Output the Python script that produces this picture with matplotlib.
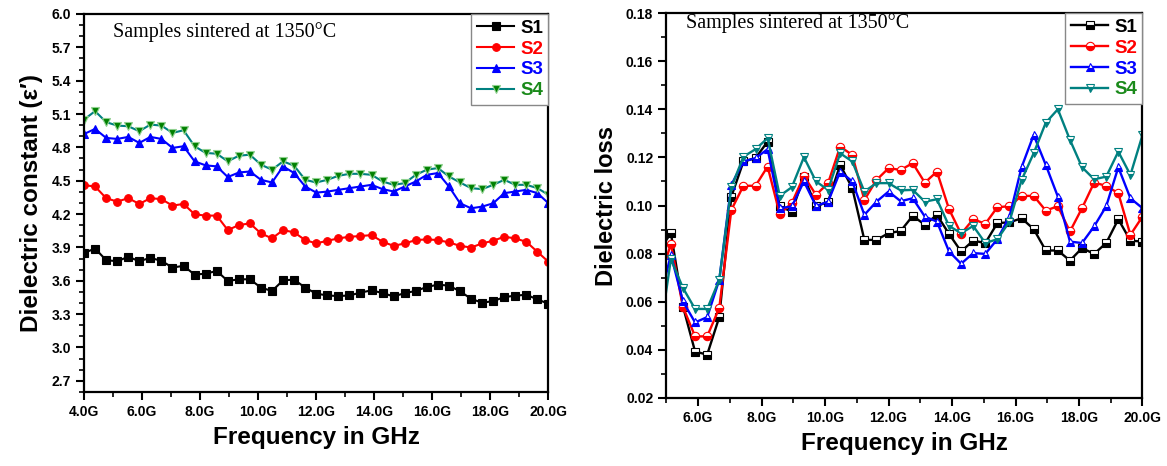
import numpy as np
import matplotlib.pyplot as plt
from matplotlib.ticker import MultipleLocator, FuncFormatter

# frequency grid (GHz), 43 points from 4 to 20
freq = np.linspace(4, 20, 43)

# dielectric constant
eps_s1 = [3.85, 3.89, 3.785, 3.776, 3.815, 3.776, 3.806, 3.779, 3.719, 3.734, 3.655,
          3.664, 3.688, 3.598, 3.613, 3.613, 3.538, 3.508, 3.604, 3.610, 3.538, 3.484,
          3.468, 3.462, 3.468, 3.493, 3.514, 3.489, 3.459, 3.489, 3.508, 3.544, 3.565,
          3.556, 3.505, 3.438, 3.402, 3.417, 3.453, 3.466, 3.474, 3.432, 3.393]
eps_s2 = [4.46, 4.448, 4.343, 4.312, 4.343, 4.291, 4.343, 4.334, 4.276, 4.291, 4.198,
          4.186, 4.186, 4.056, 4.101, 4.116, 4.026, 3.981, 4.056, 4.035, 3.966, 3.936,
          3.960, 3.981, 3.996, 4.002, 4.011, 3.950, 3.914, 3.936, 3.966, 3.972, 3.966,
          3.945, 3.914, 3.899, 3.936, 3.960, 3.996, 3.981, 3.950, 3.860, 3.770]
eps_s3 = [4.92, 4.966, 4.885, 4.876, 4.894, 4.840, 4.894, 4.876, 4.795, 4.810, 4.674,
          4.638, 4.629, 4.533, 4.574, 4.583, 4.508, 4.484, 4.629, 4.569, 4.448, 4.393,
          4.402, 4.418, 4.433, 4.448, 4.463, 4.424, 4.403, 4.448, 4.493, 4.553, 4.569,
          4.448, 4.297, 4.252, 4.267, 4.297, 4.388, 4.403, 4.418, 4.388, 4.297]
eps_s4 = [5.05, 5.126, 5.027, 4.996, 4.990, 4.945, 5.005, 4.996, 4.930, 4.954, 4.810,
          4.750, 4.743, 4.674, 4.725, 4.734, 4.644, 4.599, 4.674, 4.635, 4.508, 4.484,
          4.508, 4.544, 4.562, 4.562, 4.553, 4.493, 4.463, 4.478, 4.553, 4.599, 4.614,
          4.538, 4.484, 4.433, 4.424, 4.463, 4.508, 4.463, 4.463, 4.433, 4.373]

# dielectric loss (starts at the 3rd frequency point)
loss_freq = freq[2:]
loss_s1 = [0.081, 0.0885, 0.058, 0.0393, 0.038, 0.0536, 0.1037, 0.1183, 0.1197, 0.1266,
           0.0996, 0.0975, 0.112, 0.0996, 0.1016, 0.1169, 0.1072, 0.0857, 0.0857, 0.0885,
           0.0894, 0.0957, 0.092, 0.0961, 0.0882, 0.0809, 0.0854, 0.0844, 0.0927, 0.093,
           0.0947, 0.0902, 0.0813, 0.0813, 0.0771, 0.0823, 0.0799, 0.0844, 0.0943, 0.0854,
           0.085]
loss_s2 = [0.0676, 0.0841, 0.0578, 0.0456, 0.0456, 0.0574, 0.0982, 0.1082, 0.1082, 0.1162,
           0.0965, 0.1010, 0.1123, 0.1044, 0.1093, 0.1245, 0.1210, 0.1023, 0.1106, 0.1155,
           0.1148, 0.1176, 0.1095, 0.1141, 0.0985, 0.0882, 0.0943, 0.0924, 0.0993, 0.0997,
           0.104, 0.104, 0.0979, 0.0997, 0.0892, 0.0989, 0.1095, 0.1082, 0.1051, 0.0878,
           0.0954]
loss_s3 = [0.0592, 0.0795, 0.0601, 0.0514, 0.0536, 0.0691, 0.1086, 0.1183, 0.1197, 0.1234,
           0.0989, 0.0996, 0.1100, 0.0998, 0.1016, 0.1141, 0.1100, 0.0961, 0.1016, 0.1058,
           0.1018, 0.103, 0.0954, 0.0933, 0.0809, 0.0758, 0.0802, 0.0799, 0.086, 0.0954,
           0.1159, 0.1293, 0.1169, 0.1037, 0.085, 0.0844, 0.0913, 0.0997, 0.1159, 0.103,
           0.0989]
loss_s4 = [0.0434, 0.0777, 0.0657, 0.057, 0.057, 0.0691, 0.1076, 0.1203, 0.1234, 0.128,
           0.104, 0.1076, 0.1201, 0.11, 0.1065, 0.1217, 0.1183, 0.1058, 0.1093, 0.1093,
           0.1063, 0.1065, 0.1016, 0.1026, 0.0915, 0.0885, 0.0915, 0.0844, 0.086, 0.0933,
           0.1106, 0.1217, 0.1344, 0.14, 0.1273, 0.1159, 0.1109, 0.112, 0.1224, 0.1127,
           0.1293]

labels = ["S1", "S2", "S3", "S4"]
line_colors = ["black", "#ff0000", "#0000ff", "#008080"]
text_colors = ["black", "#ff0000", "#0000ff", "#1a8a1a"]
markers = ["s", "o", "^", "v"]

plt.rcParams['font.family'] = ['Liberation Sans', 'DejaVu Sans']

fig = plt.figure(figsize=(11.67, 4.66), dpi=100)
ax1 = fig.add_axes([0.072, 0.159, 0.398, 0.811])
ax2 = fig.add_axes([0.571, 0.146, 0.408, 0.826])

# left: dielectric constant, filled markers
for y, lab, c, m in zip([eps_s1, eps_s2, eps_s3, eps_s4], labels, line_colors, markers):
    fc = "#008000" if lab == "S4" else c
    ec = "#8fd08f" if lab == "S4" else c
    ax1.plot(freq, y, color=c, marker=m, markersize=5.5, lw=1.5,
             markerfacecolor=fc, markeredgecolor=ec, markeredgewidth=0.8, label=lab)

# right: dielectric loss, half-filled markers
for y, lab, c, m in zip([loss_s1, loss_s2, loss_s3, loss_s4], labels, line_colors, markers):
    ax2.plot(loss_freq, y, color=c, marker=m, markersize=6, lw=1.7,
             fillstyle='bottom', markerfacecolor=c, markerfacecoloralt='white',
             markeredgecolor=c, markeredgewidth=0.8, label=lab)

def style(ax, ylo, yhi, ymaj, ymin, yfmt, xlo):
    ax.set_xlim(xlo, 20)
    ax.set_ylim(ylo, yhi)
    ax.xaxis.set_major_locator(MultipleLocator(2))
    ax.xaxis.set_minor_locator(MultipleLocator(1))
    ax.yaxis.set_major_locator(MultipleLocator(ymaj))
    ax.yaxis.set_minor_locator(MultipleLocator(ymin))
    ax.xaxis.set_major_formatter(FuncFormatter(lambda v, p: f"{v:.1f}G"))
    ax.yaxis.set_major_formatter(FuncFormatter(lambda v, p: yfmt.format(v)))
    ax.tick_params(which='major', direction='out', length=6, width=1.5,
                   labelsize=10, top=False, right=False)
    ax.tick_params(which='minor', direction='out', length=3.5, width=1.2,
                   top=False, right=False)
    for s in ax.spines.values():
        s.set_linewidth(1.6)
    ax.set_xlabel("Frequency in GHz", fontsize=17.5, fontweight='bold', labelpad=5)
    leg = ax.legend(loc='upper right', bbox_to_anchor=(1, 1), borderaxespad=0,
                    fancybox=False, edgecolor='#888888', framealpha=1,
                    prop={'weight': 'bold', 'size': 13.5}, handlelength=2.0,
                    labelspacing=0.2, borderpad=0.3, handletextpad=0.3)
    for t, tc in zip(leg.get_texts(), text_colors):
        t.set_color(tc)

style(ax1, 2.6, 6.0, 0.3, 0.1, "{:.1f}", 4)
style(ax2, 0.02, 0.18, 0.02, 0.01, "{:.2f}", 5)
ax1.set_yticks(np.arange(2.7, 6.01, 0.3))
for ax in (ax1, ax2):
    for lbl in ax.get_xticklabels() + ax.get_yticklabels():
        lbl.set_fontweight('bold')

ax1.set_ylabel("Dielectric constant (\u03b5\u2032)", fontsize=17.5, fontweight='bold', labelpad=6)
ax2.set_ylabel("Dielectric loss", fontsize=17, fontweight='bold', labelpad=6)

ax1.text(0.0625, 0.952, "Samples sintered at 1350\u00b0C", transform=ax1.transAxes,
         fontsize=14.5, family='Liberation Serif', va='center', ha='left')
ax2.text(0.042, 0.975, "Samples sintered at 1350\u00b0C", transform=ax2.transAxes,
         fontsize=14.5, family='Liberation Serif', va='center', ha='left')

fig.savefig("out.png", dpi=100)
